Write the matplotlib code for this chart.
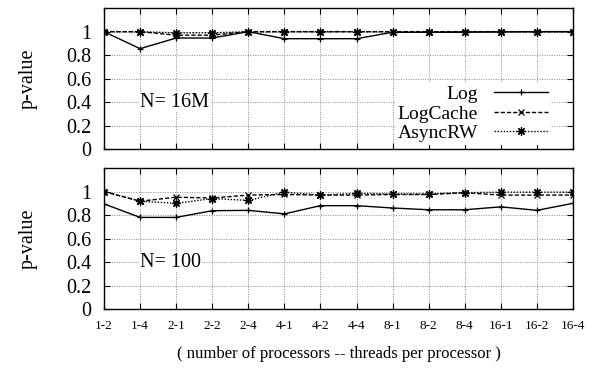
import numpy as np
import matplotlib
matplotlib.use("Agg")
import matplotlib.pyplot as plt
from matplotlib.markers import MarkerStyle

plt.rcParams['font.family'] = ['Liberation Serif', 'DejaVu Serif']

# categories: processors - threads per processor
configs = ['1-2', '1-4', '2-1', '2-2', '2-4', '4-1', '4-2', '4-4',
           '8-1', '8-2', '8-4', '16-1', '16-2', '16-4']

# N = 16M
log_16m = [1.0, 0.855, 0.946, 0.946, 1.0, 0.94, 0.94, 0.94,
           0.995, 0.995, 0.995, 0.998, 1.0, 1.0]
cache_16m = [1.0, 1.0, 0.97, 0.97, 1.0, 1.0, 1.0, 1.0,
             1.0, 1.0, 1.0, 1.0, 1.0, 1.0]
async_16m = [1.0, 1.0, 0.99, 0.99, 1.0, 1.0, 1.0, 1.0,
             1.0, 1.0, 1.0, 1.0, 1.0, 1.0]

# N = 100
log_100 = [0.895, 0.78, 0.78, 0.837, 0.84, 0.81, 0.88, 0.88,
           0.86, 0.845, 0.845, 0.87, 0.84, 0.9]
cache_100 = [1.0, 0.918, 0.952, 0.945, 0.97, 0.975, 0.97, 0.97,
             0.975, 0.975, 0.99, 0.97, 0.97, 0.97]
async_100 = [1.0, 0.918, 0.90, 0.94, 0.925, 0.995, 0.97, 0.985,
             0.98, 0.98, 0.99, 0.995, 0.995, 0.995]

x = np.arange(len(configs))
star = MarkerStyle((8, 2, 0))

fig = plt.figure(figsize=(5.95, 3.71), dpi=100)
ax1 = fig.add_axes([0.1748, 0.598, 0.7882, 0.380])
ax2 = fig.add_axes([0.1748, 0.167, 0.7882, 0.380])


def draw_panel(ax, log, cache, asyn, label, legend=False):
    ax.plot(x, log, color='black', lw=1.0, ls='-', marker='+', ms=5, mew=0.9, label='Log')
    ax.plot(x, cache, color='black', lw=1.0, ls=(0, (3, 1.5)), marker='x', ms=4, mew=0.9,
            label='LogCache')
    ax.plot(x, asyn, color='black', lw=1.0, ls=(0, (1, 1.2)), marker=star, ms=6, mew=0.9,
            label='AsyncRW')
    ax.set_xlim(0, len(configs) - 1)
    ax.set_ylim(0, 1.2)
    ax.set_yticks([0, 0.2, 0.4, 0.6, 0.8, 1.0])
    ax.set_yticklabels(['0', '0.2', '0.4', '0.6', '0.8', '1'], fontsize=14.5)
    ax.set_xticks(x)
    ax.grid(True, color='#888888', ls=(0, (1, 1.5)), lw=0.7)
    ax.tick_params(direction='in', top=True, right=True, length=4, width=0.8)
    ax.tick_params(axis='y', pad=9)
    ax.set_ylabel('p-value', fontsize=14.5)
    ax.yaxis.set_label_coords(-0.142, 0.5)
    for s in ax.spines.values():
        s.set_linewidth(1.0)
    ax.text(1.0, 0.4, label, fontsize=14.5, ha='left', va='center',
            bbox=dict(facecolor='white', edgecolor='none', pad=0.5))
    if legend:
        leg = ax.legend(loc='lower right', bbox_to_anchor=(0.953, 0.028), frameon=True,
                        fancybox=False, edgecolor='none', framealpha=1.0,
                        markerfirst=False, handlelength=2.8, fontsize=14,
                        labelspacing=0.1, borderpad=0.15, handletextpad=0.8,
                        borderaxespad=0.0)
        # right-align the labels (gnuplot style)
        for col in leg._legend_handle_box.get_children():
            col.align = 'right'


draw_panel(ax1, log_16m, cache_16m, async_16m, 'N= 16M', legend=True)
ax1.set_xticklabels([])
draw_panel(ax2, log_100, cache_100, async_100, 'N= 100')
ax2.set_xticklabels(configs, fontsize=9.5)
ax2.tick_params(axis='x', pad=8)
ax2.set_xlabel('( number of processors -- threads per processor )', fontsize=12, labelpad=10)

fig.savefig('out.png', dpi=100)
